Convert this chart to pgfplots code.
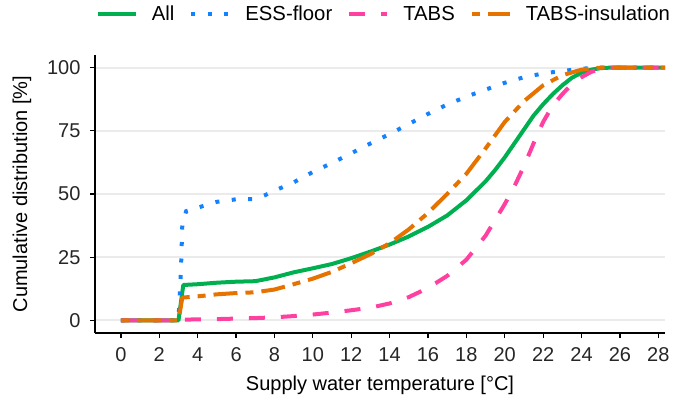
\documentclass[border=0pt]{standalone}
\usepackage{pgfplots}
\pgfplotsset{compat=1.18}
\usepackage{fontspec}
\setmainfont{Liberation Sans}
\definecolor{cAll}{RGB}{0,176,80}
\definecolor{cESS}{RGB}{20,130,255}
\definecolor{cTABS}{RGB}{255,64,160}
\definecolor{cIns}{RGB}{230,115,0}
\definecolor{cGrid}{RGB}{235,235,235}

\pgfplotstableread{
x y
0 0
3.0 0
3.25 14
4 14.3
5 14.9
6 15.3
7 15.5
8 17
9 19
10 20.6
11 22.3
12 24.6
13 27.2
14 30
15 33.2
16 37
17 41.5
18 47.5
19 55
19.5 59.5
20 64.5
20.5 70
21 75.5
21.5 81
22 85.5
22.5 89.5
23 93
23.5 96
24 98
24.5 99.2
25 99.8
25.5 100
28.35 100
}\tblAll

\pgfplotstableread{
x y
0 0
3.0 0
3.13 20
3.2 38
3.4 43.2
4 44.6
5 46.9
6 47.9
7 48
7.5 49.5
8 51.3
9 54.6
10 58.7
11 62.3
12 66.1
13 70
14 73.7
15 77.7
16 81.7
17 85.4
18 88.5
19 91.3
20 94
21 96.2
22 97.7
23 98.7
24 99.5
24.6 100
28.35 100
}\tblESS

\pgfplotstableread{
x y
0 0
3.0 0
3.3 0.3
5 0.5
7 0.9
8 1.2
9 1.7
10 2.3
11 3.1
12 4.0
13 5.0
14 6.7
15 9.2
16 12.8
17 17.6
18 24
19 33.5
20 46
20.5 53
21 61
21.5 70
22 78.5
22.5 85
23 89.5
23.5 93.5
24 96.2
24.5 98.3
25 99.5
25.5 100
28.35 100
}\tblTABS

\pgfplotstableread{
x y
0 0
3.0 0
3.2 9
4 9.5
5 10.3
6 10.8
7 11.1
8 12.2
9 14.3
10 16.5
11 19.2
12 22.6
13 26.2
14 30.5
15 36
16 42.5
17 50
18 58
19 68
20 78.5
21 86.7
22 93
23 97
24 99.2
25 100
28.35 100
}\tblIns

\begin{document}
\begin{tikzpicture}
\useasboundingbox (0pt,0pt) rectangle (678pt,-404pt);
\begin{axis}[
  at={(95pt,-333pt)}, anchor=south west,
  scale only axis, width=570pt, height=278pt,
  xmin=-1.35, xmax=28.35, ymin=-5, ymax=105,
  axis x line=bottom, axis y line=left,
  axis line style={-, black, line width=1.5pt},
  xtick={0,2,...,28}, ytick={0,25,50,75,100},
  tick align=outside, major tick length=5pt,
  tick style={black, line width=1.2pt},
  ymajorgrids, grid style={cGrid, line width=1.8pt},
  /pgf/number format/assume math mode=true,
  tick label style={font=\fontsize{20}{20}\selectfont, text=black!85},
  yticklabel style={xshift=-6pt},
  xticklabel style={yshift=-6pt},
  xlabel={Supply water temperature [°C]},
  ylabel={Cumulative distribution [\%]},
  xlabel style={font=\fontsize{20}{20}\selectfont, at={(axis description cs:0.5,-0.19)}, anchor=center},
  ylabel style={font=\fontsize{20}{20}\selectfont, at={(axis description cs:-0.128,0.5)}, anchor=center},
  legend columns=-1,
  legend style={draw=none, fill=none, at={(axis description cs:0.505,1.1475)}, anchor=center,
    font=\fontsize{20.3}{20.3}\selectfont, nodes={inner sep=0pt},
    /tikz/every odd column/.append style={column sep=14pt},
    /tikz/every even column/.append style={column sep=15pt}},
  legend image code/.code={\draw[#1] (0pt,0pt) -- (38pt,0pt);},
  clip=false,
]
\addplot[cAll, line width=4pt, line join=round] table[x=x,y=y] {\tblAll};
\addlegendentry{All}
\addplot[cESS, line width=4pt, dash pattern=on 4pt off 12.5pt] table[x=x,y=y] {\tblESS};
\addlegendentry{ESS-floor}
\addplot[cTABS, line width=4pt, dash pattern=on 16pt off 16pt] table[x=x,y=y] {\tblTABS};
\addlegendentry{TABS}
\addplot[cIns, line width=4pt, line join=round, dash pattern=on 8pt off 8pt on 24pt off 8pt] table[x=x,y=y] {\tblIns};
\addlegendentry{TABS-insulation}
\end{axis}
\end{tikzpicture}
\end{document}
